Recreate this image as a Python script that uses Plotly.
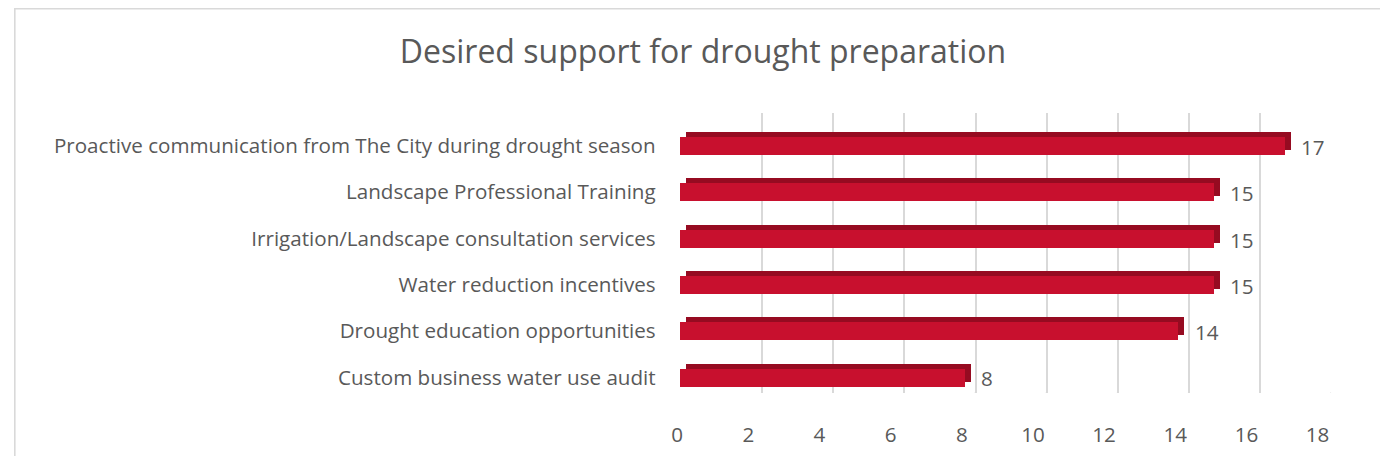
import plotly.graph_objects as go

# ---- data ----
categories = [
    "Proactive communication from The City during drought season",
    "Landscape Professional Training",
    "Irrigation/Landscape consultation services",
    "Water reduction incentives",
    "Drought education opportunities",
    "Custom business water use audit",
]
values = [17, 15, 15, 15, 14, 8]
tick_values = list(range(0, 19, 2))
title_text = "Desired support for drought preparation"

# ---- layout geometry (screen pixels; page body has an 8px margin) ----
PAGE_MARGIN = 8
W, H = 1372, 448          # fits inside the window together with the body margin
XMAX = 18
UNIT = 36.05  # px per unit


def fx(px):
    return (px - PAGE_MARGIN) / W


def fy(py):
    return 1 - (py - PAGE_MARGIN) / H


FRONT_X0 = 682.5          # value 0 on bar front plane
BAR_TOP, BAR_BOT = 122.8, 400.6
DEPTH_DX, DEPTH_DY = 6, 5
WALL_X0 = 694
WALL_TOP, WALL_BOT = 113, 393
FLOOR_X0 = 680

FONT = "Open Sans"
GREY = "#595959"
GRID = "#d9d9d9"
RED = "#c8102e"
DARK = "#960b21"
LABEL_SIZE = 20.6

fig = go.Figure()

# back wall (gridlines) - subplot 1
fig.add_trace(go.Scatter(x=[0], y=[0], mode="markers", marker=dict(opacity=0),
                         hoverinfo="skip", showlegend=False, xaxis="x", yaxis="y"))
# depth faces - subplot 2
fig.add_trace(go.Bar(x=values, y=categories, orientation="h", width=0.39,
                     marker=dict(color=DARK, line=dict(width=0)),
                     hoverinfo="skip", showlegend=False, xaxis="x2", yaxis="y2"))
# front faces - subplot 3
fig.add_trace(go.Bar(x=values, y=categories, orientation="h", width=0.39,
                     marker=dict(color=RED, line=dict(width=0)),
                     showlegend=False, xaxis="x3", yaxis="y3"))
# floor tick labels - subplot 4
fig.add_trace(go.Scatter(x=[0], y=[0], mode="markers", marker=dict(opacity=0),
                         hoverinfo="skip", showlegend=False, xaxis="x4", yaxis="y4"))

hidden = dict(showgrid=False, zeroline=False, showline=False, showticklabels=False, ticks="")

fig.update_layout(
    width=W, height=H, autosize=False,
    margin=dict(l=0, r=0, t=0, b=0),
    paper_bgcolor="white", plot_bgcolor="rgba(0,0,0,0)",
    font=dict(family=FONT, color=GREY, size=LABEL_SIZE),
    bargap=0,
    xaxis=dict(domain=[fx(WALL_X0), fx(WALL_X0 + XMAX * UNIT)], range=[0, XMAX],
               anchor="y", showgrid=True, gridcolor=GRID, gridwidth=1.6,
               tickvals=tick_values, zeroline=False, showline=False,
               showticklabels=False, ticks=""),
    yaxis=dict(domain=[fy(WALL_BOT), fy(WALL_TOP)], range=[0, 1], anchor="x", **hidden),
    xaxis2=dict(domain=[fx(FRONT_X0 + DEPTH_DX), fx(FRONT_X0 + DEPTH_DX + XMAX * UNIT)],
                range=[0, XMAX], anchor="y2", **hidden),
    yaxis2=dict(domain=[fy(BAR_BOT - DEPTH_DY), fy(BAR_TOP - DEPTH_DY)], anchor="x2",
                categoryorder="array", categoryarray=categories[::-1], **hidden),
    xaxis3=dict(domain=[fx(FRONT_X0), fx(FRONT_X0 + XMAX * UNIT)], range=[0, XMAX],
                anchor="y3", **hidden),
    yaxis3=dict(domain=[fy(BAR_BOT), fy(BAR_TOP)], anchor="x3",
                categoryorder="array", categoryarray=categories[::-1],
                showgrid=False, zeroline=False, showline=False, ticks="",
                showticklabels=True, ticklabelstandoff=23,
                tickfont=dict(family=FONT, size=LABEL_SIZE, color=GREY)),
    xaxis4=dict(domain=[fx(FLOOR_X0), fx(FLOOR_X0 + XMAX * UNIT)], range=[0, XMAX],
                anchor="y4", tickvals=tick_values, showgrid=False, zeroline=False,
                showline=False, ticks="", showticklabels=True,
                tickfont=dict(family=FONT, size=LABEL_SIZE, color=GREY)),
    yaxis4=dict(domain=[fy(420), fy(405)], range=[0, 1], anchor="x4", **hidden),
    title=dict(text=title_text, x=fx(703), xanchor="center", y=fy(52), yanchor="middle",
               font=dict(family=FONT, size=32, color=GREY)),
)

# floor diagonals from back wall to front edge at each tick
for v in tick_values:
    fig.add_shape(type="line", xref="x", yref="y", xsizemode="pixel", ysizemode="pixel",
                  xanchor=v, yanchor=0, x0=0, y0=0,
                  x1=-(WALL_X0 - FLOOR_X0 + 2.5), y1=-11,
                  line=dict(color=GRID, width=1.6), layer="below")

# value labels
for c, v in zip(categories, values):
    fig.add_annotation(x=v, y=c, xref="x3", yref="y3", text=str(v), showarrow=False,
                       xanchor="left", xshift=15, yshift=-1,
                       font=dict(family=FONT, size=LABEL_SIZE, color=GREY))

# chart border (left and top edges visible)
fig.add_shape(type="rect", xref="paper", yref="paper", x0=fx(8.8), y0=fy(H + 60),
              x1=fx(W + 60), y1=fy(8.8), line=dict(color=GRID, width=1.6),
              fillcolor="rgba(0,0,0,0)", layer="below")

fig.write_html("out.html")
